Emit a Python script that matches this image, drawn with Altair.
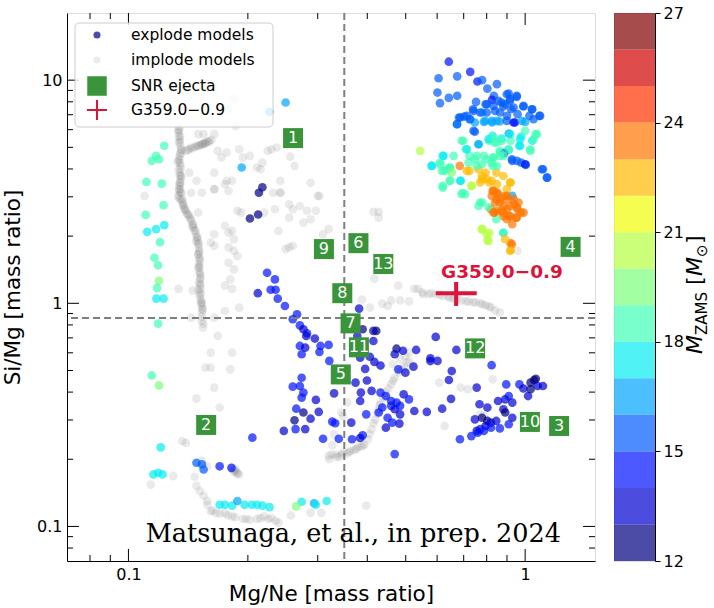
import altair as alt
import pandas as pd

W, H = 528, 548
FONT = "DejaVu Sans"
RED = "#dc143c"
GREEN = "#3a943a"

# ---------------- explode models (x = Mg/Ne, y = Si/Mg, m = M_ZAMS) ----------------
ex_x = [
    0.642, 0.727, 0.605, 0.674, 0.758, 0.779, 0.849, 0.601, 0.642, 0.674,
    0.610, 0.803, 0.834, 0.825, 0.909, 0.952, 0.872, 0.915, 0.795, 0.739,
    0.779, 0.881, 0.922, 0.989, 1.042, 0.702, 0.681, 0.724, 0.674, 0.747,
    0.787, 0.825, 0.863, 0.900, 0.942, 0.957, 1.025, 1.086, 1.000, 0.747,
    0.909, 0.828, 0.872, 0.977, 1.064, 1.042, 0.698, 0.763, 0.812, 0.837,
    0.919, 0.967, 0.709, 0.863, 0.909, 0.885, 1.031, 0.544, 0.620, 0.660,
    0.724, 0.787, 0.831, 0.863, 0.928, 0.977, 1.004, 1.109, 1.137, 0.581,
    0.610, 0.646, 0.627, 0.684, 0.724, 0.763, 0.828, 0.795, 0.846, 0.779,
    0.812, 0.881, 0.919, 0.646, 0.688, 0.732, 0.620, 0.695, 0.828, 0.855,
    0.890, 0.928, 0.863, 0.938, 0.977, 0.900, 0.837, 0.881, 0.948, 0.928,
    0.846, 0.779, 0.763, 0.881, 0.779, 0.812, 0.803, 0.919, 0.919, 0.846,
    0.900, 0.872, 0.909, 0.957, 0.820,
]
ex_y = [
    12.1, 10.9, 10.2, 10.4, 9.86, 10.0, 9.6, 8.80, 8.33, 8.51,
    7.89, 9.17, 8.51, 8.16, 8.71, 8.42, 7.94, 8.08, 7.80, 7.41,
    7.16, 7.62, 7.41, 7.62, 7.41, 6.87, 6.80, 6.69, 6.35, 6.46,
    6.50, 6.46, 6.53, 6.92, 6.46, 7.04, 6.92, 6.92, 6.50, 5.87,
    5.77, 5.63, 5.48, 5.59, 5.73, 5.35, 5.35, 5.16, 5.35, 5.25,
    5.35, 5.08, 4.90, 4.82, 4.87, 4.71, 4.82, 4.82, 4.58, 4.58,
    4.58, 4.58, 4.50, 4.58, 4.35, 4.27, 4.17, 3.99, 3.66, 4.13,
    4.27, 4.06, 3.92, 4.13, 3.92, 3.99, 4.13, 3.85, 3.85, 3.60,
    3.48, 3.72, 3.48, 3.54, 3.54, 3.36, 3.30, 3.13, 3.19, 3.08,
    3.03, 3.03, 2.83, 2.78, 2.55, 2.64, 2.55, 2.46, 2.42, 2.26,
    2.38, 2.83, 2.73, 2.07, 2.15, 2.07, 1.92, 1.86, 1.73, 2.93,
    2.93, 2.60, 2.46, 2.64, 2.64,
]
ex_m = [
    14.5, 14.3, 15.4, 15.6, 14.6, 15.2, 15.5, 15.3, 15.6, 15.4,
    15.5, 15.3, 15.6, 14.7, 15.4, 15.5, 15.3, 15.6, 15.4, 15.5,
    16.3, 15.4, 15.5, 15.3, 15.6, 15.5, 15.4, 16.4, 16.5, 16.6,
    16.4, 16.5, 16.6, 15.5, 14.6, 15.4, 15.5, 15.3, 16.4, 15.5,
    16.5, 17.5, 17.4, 17.6, 18.5, 17.5, 18.4, 17.5, 18.5, 18.6,
    18.4, 17.6, 18.5, 18.5, 17.5, 14.5, 18.4, 20.5, 17.5, 18.5,
    18.4, 18.6, 18.5, 18.5, 15.5, 15.4, 15.6, 15.5, 15.4, 17.5,
    18.5, 18.4, 18.6, 23.2, 22.5, 22.4, 18.5, 22.6, 22.5, 22.5,
    22.4, 22.6, 22.5, 18.5, 17.5, 20.5, 18.5, 18.4, 23.5, 23.4,
    23.6, 16.5, 23.5, 23.4, 23.5, 23.6, 23.5, 23.4, 23.5, 23.6,
    18.5, 18.5, 18.4, 17.5, 20.5, 20.4, 20.6, 23.5, 22.5, 23.5,
    23.4, 23.5, 23.6, 23.5, 23.4,
]

# more upper-right explode models
ur_x = [0.752, 0.800, 0.832, 0.857, 0.899, 0.917, 0.953, 0.890, 0.935, 0.991,
        1.040, 0.741, 0.770, 0.800, 0.840, 0.865, 0.686, 0.713, 0.727, 0.673,
        0.741, 0.793, 0.824, 0.849, 0.899, 0.935, 0.981, 1.050, 1.091,
        0.692, 0.763, 0.809, 0.832, 0.849, 0.873, 0.917, 0.971, 1.000, 1.050,
        1.070, 1.029, 0.971, 0.908, 0.865, 0.832, 0.800, 0.755, 0.713, 0.748,
        0.778, 0.824, 0.849, 0.882, 0.926, 0.953, 1.000, 1.102, 1.134, 0.623,
        0.582, 0.611, 0.617, 0.635, 0.647, 0.653, 0.720, 0.713, 0.755, 0.686,
        0.647, 0.620, 0.692, 0.706, 0.734, 0.770, 0.809, 0.882, 0.778, 0.800,
        0.809, 0.890, 0.926, 0.917,
        0.778, 0.800, 0.824, 0.770, 0.849, 0.917, 0.899, 0.832, 0.849, 0.824,
        0.865, 0.899, 0.935, 0.962, 0.840, 0.882, 0.917, 0.953, 0.991, 0.849,
        0.882, 0.917, 0.953, 0.899, 0.832]
ur_y = [7.99, 7.80, 7.67, 8.08, 8.65, 8.22, 8.51, 7.80, 7.54, 7.67,
        7.41, 7.28, 7.16, 7.16, 7.28, 7.16, 6.80, 6.92, 6.68, 6.35,
        5.93, 6.57, 6.57, 6.57, 6.57, 6.46, 6.57, 6.68, 6.92,
        5.35, 5.16, 5.44, 5.53, 5.26, 5.35, 5.73, 5.44, 5.93, 5.44,
        5.73, 4.90, 5.08, 4.90, 4.74, 4.50, 4.42, 4.58, 4.90, 4.42,
        4.20, 4.27, 4.13, 4.58, 4.42, 4.35, 4.20, 3.99, 3.66, 4.58,
        4.13, 4.20, 3.92, 3.99, 4.06, 3.85, 4.27, 3.92, 4.13, 3.54,
        3.54, 3.36, 3.08, 3.08, 3.36, 2.83, 2.69, 2.07, 2.15, 2.04,
        1.90, 1.94, 1.84, 1.72,
        3.72, 3.60, 3.54, 3.48, 3.42, 3.48, 3.25, 3.19, 3.14, 3.03,
        2.93, 3.03, 2.93, 2.83, 2.83, 2.73, 2.73, 2.69, 2.55, 2.59,
        2.55, 2.46, 2.42, 2.38, 2.55]
ur_m = [15.5, 15.4, 15.5, 15.3, 15.4, 15.5, 15.6, 15.4, 15.5, 15.4,
        15.5, 15.5, 15.4, 15.5, 15.6, 15.5, 15.4, 15.5, 15.6, 15.5,
        15.5, 16.5, 16.4, 16.5, 15.5, 14.5, 16.5, 15.5, 15.4,
        18.5, 16.5, 17.5, 18.5, 18.5, 18.4, 17.5, 17.5, 18.5, 18.5,
        18.4, 18.5, 17.5, 18.5, 18.5, 18.4, 18.5, 18.5, 17.5, 18.5,
        18.5, 18.4, 18.5, 18.5, 15.5, 15.4, 14.5, 15.5, 15.5, 17.5,
        17.5, 18.5, 18.4, 18.5, 18.5, 19.5, 18.5, 22.5, 18.5, 17.5,
        18.5, 18.5, 18.5, 18.4, 20.5, 18.5, 18.5, 18.5, 20.5, 20.5,
        20.4, 22.5, 23.5, 22.5,
        22.5, 22.5, 22.4, 22.5, 22.6, 22.5, 22.5, 23.5, 23.5, 23.4,
        23.5, 23.5, 23.6, 23.5, 23.5, 23.4, 23.5, 23.5, 23.6, 23.5,
        23.5, 23.4, 23.5, 23.5, 23.6]

# left column of explode models
col_x = [0.1231, 0.1174, 0.1145, 0.1194, 0.1110, 0.1214, 0.1226, 0.1105, 0.1231, 0.1174,
         0.1115, 0.1201, 0.1163, 0.1188, 0.1194, 0.1181, 0.1176, 0.1226, 0.1188, 0.1145,
         0.1194, 0.1206, 0.1156, 0.1188, 0.1219]
col_y = [5.08, 4.58, 4.35, 4.42, 3.50, 3.44, 2.75, 2.49, 2.24, 2.15,
         2.09, 1.88, 1.60, 1.48, 1.26, 1.17, 1.05, 1.05, 0.811, 0.475,
         0.429, 0.226, 0.171, 0.174, 0.171]
col_m = [18.5, 18.5, 18.4, 18.6, 18.5, 18.5, 18.5, 18.4, 17.5, 17.6,
         17.5, 18.5, 18.5, 18.4, 19.5, 18.5, 17.5, 17.6, 18.5, 18.5,
         19.5, 17.5, 17.5, 17.4, 17.6]

# bottom row and low-left cluster
low_x = [0.1698, 0.1751, 0.1825, 0.1882, 0.1962, 0.2045, 0.2110, 0.2176, 0.2268, 0.2733,
         0.2649, 0.2938, 0.2968, 0.316, 0.1484, 0.1531, 0.1547, 0.1698, 0.1818]
low_y = [0.125, 0.125, 0.124, 0.130, 0.125, 0.125, 0.125, 0.124, 0.122, 0.129,
         0.123, 0.127, 0.125, 0.130, 0.193, 0.190, 0.180, 0.186, 0.183]
low_m = [17.5, 17.5, 17.4, 16.5, 17.5, 17.6, 17.5, 17.4, 17.5, 17.5,
         19.5, 16.5, 17.5, 17.5, 15.5, 15.4, 15.6, 14.5, 14.5]

# middle band
mid_x = [0.2176, 0.2132, 0.2024, 0.2123, 0.2236, 0.2340, 0.2119, 0.2283, 0.2350, 0.2379,
         0.2480, 0.2660, 0.2595, 0.2705, 0.2761, 0.2819, 0.2950, 0.2807, 0.3049, 0.3196,
         0.2705, 0.2790, 0.3030, 0.2733, 0.3209, 0.3815, 0.3894, 0.4144, 0.4213, 0.3775,
         0.4144, 0.3838, 0.4059, 0.4169, 0.4740, 0.4920, 0.5311, 0.4691, 0.5951, 0.6709,
         0.5769, 0.6013, 0.5229, 0.6531, 0.8233, 0.4789, 1.064,
         0.249, 0.2268, 0.193]
mid_y = [3.31, 3.13, 2.40, 2.50, 1.37, 1.28, 1.11, 1.15, 1.15, 1.05,
         0.973, 0.892, 0.848, 0.796, 0.765, 0.734, 0.695, 0.714, 0.644, 0.651,
         0.644, 0.633, 0.605, 0.591, 0.552, 0.947, 0.765, 0.752, 0.752, 0.714,
         0.678, 0.571, 0.576, 0.546, 0.626, 0.613, 0.618, 0.591, 0.707, 0.618,
         0.567, 0.552, 0.520, 0.497, 0.528, 0.506, 0.459,
         7.94, 7.21, 4.06]
mid_m = [12.6, 12.4, 12.5, 12.6, 14.5, 14.4, 13.5, 14.5, 14.6, 14.5,
         14.4, 14.5, 14.6, 14.5, 13.5, 14.5, 13.6, 13.5, 14.5, 14.4,
         14.5, 13.5, 14.6, 14.5, 14.5, 13.5, 12.5, 13.5, 12.6, 13.4,
         13.5, 13.5, 13.6, 13.5, 12.5, 13.5, 13.4, 13.5, 13.5, 13.6,
         13.5, 13.4, 13.5, 13.5, 14.5, 14.5, 12.5,
         16.5, 16.6, 16.5]

# lower middle cluster
lm_x = [0.2733, 0.2595, 0.2705, 0.2761, 0.2733, 0.2649, 0.2761, 0.2622, 0.2878, 0.3018,
        0.2968, 0.2790, 0.2638, 0.2464, 0.2053, 0.3264, 0.3320, 0.3094, 0.3390, 0.3660,
        0.3894, 0.3838, 0.3645, 0.3299, 0.3736, 0.3854, 0.3951, 0.4319, 0.3838, 0.3976,
        0.4101, 0.4319, 0.4455, 0.4595, 0.4740, 0.4595, 0.4691, 0.4839, 0.4940, 0.5095,
        0.4364, 0.4274, 0.4501, 0.4839, 0.4455, 0.4819, 0.4624, 0.5256, 0.5651, 0.6177,
        0.6504, 0.6424, 0.5769, 0.4691, 0.3992, 0.4991]
lm_y = [0.464, 0.423, 0.426, 0.398, 0.378, 0.337, 0.324, 0.299, 0.304, 0.326,
        0.369, 0.273, 0.273, 0.268, 0.250, 0.295, 0.290, 0.247, 0.247, 0.246,
        0.256, 0.249, 0.292, 0.395, 0.441, 0.398, 0.508, 0.526, 0.365, 0.318,
        0.405, 0.398, 0.384, 0.365, 0.359, 0.347, 0.335, 0.347, 0.391, 0.371,
        0.341, 0.324, 0.307, 0.318, 0.277, 0.289, 0.292, 0.329, 0.326, 0.337,
        0.373, 0.453, 0.551, 0.211, 0.451, 0.489]
lm_m = [14.5, 14.5, 14.4, 14.5, 14.6, 14.5, 12.5, 12.6, 13.5, 13.5,
        13.4, 13.5, 14.5, 13.5, 14.5, 14.5, 14.4, 14.5, 14.5, 14.6,
        14.5, 13.5, 13.5, 13.5, 13.4, 13.5, 13.5, 13.6, 13.5, 14.5,
        13.5, 14.5, 14.4, 14.5, 14.6, 14.5, 13.5, 14.5, 13.5, 14.5,
        14.5, 14.4, 14.5, 13.5, 13.5, 13.4, 14.5, 13.5, 13.5, 13.6,
        13.5, 13.5, 13.4, 14.5, 13.5, 13.5]

# lower right cluster
lr_x = [0.7549, 0.7674, 0.8032, 0.8545, 0.8906, 0.8961, 0.9092, 0.9282, 0.9674, 0.9896,
        1.017, 1.032, 1.053, 1.075, 1.109, 1.032, 0.8814, 0.8906, 0.9282, 0.9092,
        0.8634, 0.7471, 0.7786, 0.8032, 0.8199, 0.7949, 0.7706, 0.7549, 0.7867, 0.8199,
        0.8457, 0.7318, 0.6849, 0.7596]
lr_y = [0.419, 0.353, 0.341, 0.365, 0.371, 0.433, 0.384, 0.359, 0.433, 0.415,
        0.384, 0.441, 0.453, 0.426, 0.426, 0.412, 0.335, 0.324, 0.307, 0.287,
        0.275, 0.302, 0.307, 0.297, 0.292, 0.282, 0.273, 0.268, 0.268, 0.277,
        0.297, 0.254, 0.246, 0.263]
lr_m = [13.5, 13.5, 13.4, 13.5, 13.5, 14.5, 14.5, 13.5, 14.5, 13.5,
        13.5, 12.5, 12.5, 13.5, 13.5, 12.5, 13.5, 12.5, 13.5, 14.5,
        14.5, 13.5, 12.5, 12.5, 13.5, 13.5, 14.5, 13.5, 14.5, 14.5,
        13.5, 14.5, 14.5, 14.5]

# ---------------- implode models ----------------
im_x = [
    0.1345, 0.1338, 0.1346, 0.1352, 0.1352, 0.1343, 0.1352, 0.1346, 0.1352, 0.1343, 0.1352, 0.1346,
    0.1330, 0.1360, 0.1335, 0.1380, 0.1410, 0.1450, 0.1480, 0.1500, 0.1510, 0.1520, 0.1500, 0.1530,
    0.1540, 0.1450, 0.1550, 0.1340, 0.1355, 0.1340,
    0.1395, 0.1439, 0.1484, 0.1531, 0.1579, 0.1619, 0.1563, 0.1509,
    0.1499, 0.1547, 0.1646, 0.1680, 0.1715, 0.1769, 0.1902, 0.1942, 0.2024, 0.2110, 0.2154, 0.2176,
    0.2245, 0.2292, 0.2364, 0.2558, 0.2622, 0.1646, 0.1646, 0.1769, 0.1825, 0.1531, 0.1439, 0.1424,
    0.1484, 0.2414, 0.2316, 0.2414, 0.2878, 0.2999, 0.1844, 0.1788, 0.1863, 0.1698,
    0.1352, 0.1360, 0.1372, 0.1395, 0.1430, 0.1453, 0.1469, 0.1490, 0.1499, 0.1509, 0.1509, 0.1506,
    0.1509, 0.1515, 0.1515, 0.1515, 0.1521, 0.1531, 0.1531, 0.1531, 0.1541,
    0.1751, 0.1646, 0.1788, 0.1882, 0.1922, 0.1788, 0.1825, 0.1844, 0.1788, 0.1844, 0.1882, 0.1788,
    0.1844, 0.1806, 0.1751, 0.1825,
    0.2199, 0.2340, 0.2414, 0.2542, 0.2595, 0.2705, 0.2819, 0.2878, 0.2968, 0.3030, 0.2542, 0.2761,
    0.3094, 0.3196, 0.2595, 0.2542, 0.2389, 0.2490,
    0.1098, 0.1338, 0.1612, 0.1612, 0.1563, 0.1806, 0.1680, 0.1825, 0.1902, 0.1751, 0.1646, 0.1439,
    0.1453, 0.1499, 0.1646, 0.1612, 0.1751, 0.1646,
    0.4144, 0.4274, 0.4274, 0.4169, 0.4789, 0.5256, 0.5366, 0.5535, 0.5710, 0.5951, 0.6202, 0.6464,
    0.6737, 0.7094, 0.7394, 0.7706, 0.7949, 0.8199, 0.8634, 0.4364, 0.4595, 0.4839, 0.5095, 0.4501,
    0.4059, 0.3878,
    0.4643, 0.4839, 0.4991, 0.5095,
    0.3196, 0.3334, 0.3475, 0.3622, 0.3775, 0.3935, 0.4017, 0.4101, 0.4187, 0.4274, 0.4319, 0.4455,
    0.4595, 0.4691, 0.4889, 0.5043, 0.3475, 0.3560, 0.3439, 0.3299, 0.3264, 0.3209,
    0.340, 0.355, 0.370, 0.385,
    0.1484, 0.1515, 0.1547, 0.1579, 0.1612, 0.1663, 0.1751, 0.1825, 0.1942, 0.2024, 0.2110, 0.2199,
    0.2292, 0.2389, 0.1366, 0.1395, 0.1297, 0.1469, 0.1138, 0.1698, 0.1646, 0.1484,
    0.2568, 0.2878, 0.3062, 0.3976, 0.6267, 0.6075, 0.6878, 0.7168, 0.7706, 0.8284, 0.7867,
    0.1844, 0.1882, 0.1902, 0.1825, 0.1531, 0.1579, 0.186,
    0.9574,
]
im_y = [
    6.14, 5.83, 5.44, 5.08, 4.74, 4.42, 4.13, 3.85, 3.60, 3.36, 3.13, 2.93,
    4.30, 3.70, 3.00, 2.70, 2.50, 2.20, 1.90, 1.65, 1.45, 1.30, 1.15, 1.00,
    0.94, 4.95, 5.20, 5.60, 4.90, 3.25,
    4.82, 4.99, 5.08, 5.16, 5.29, 5.40, 5.21, 5.11,
    5.73, 5.73, 5.73, 4.82, 4.50, 4.74, 4.90, 4.50, 4.58, 4.06, 3.99, 4.27,
    4.82, 4.90, 4.99, 4.54, 4.13, 3.85, 3.25, 3.54, 3.54, 3.13, 3.13, 3.85,
    3.54, 3.54, 3.13, 3.13, 3.47, 3.03, 8.22, 7.41, 6.24, 7.16,
    3.48, 3.13, 2.83, 2.60, 2.42, 2.26, 2.11, 1.97, 1.84, 1.72, 1.60, 1.50,
    1.39, 1.28, 1.20, 1.12, 1.04, 0.973, 0.908, 0.833, 0.778,
    3.42, 3.25, 3.19, 2.60, 2.55, 2.07, 2.11, 1.94, 1.78, 1.72, 1.63, 1.52,
    1.42, 1.28, 1.20, 1.16,
    2.55, 2.64, 3.13, 2.78, 2.64, 2.73, 2.60, 2.38, 2.60, 3.03, 2.42, 2.30,
    2.04, 2.15, 1.81, 1.78, 2.11, 1.75,
    3.03, 1.16, 0.601, 0.515, 0.515, 0.506, 0.714, 0.601, 0.956, 0.924, 0.862, 0.862,
    1.14, 2.55, 2.04, 1.87, 2.22, 1.81,
    2.57, 2.57, 2.42, 1.29, 1.20, 1.16, 1.16, 1.10, 1.10, 1.10, 1.08, 1.06,
    1.04, 1.02, 1.01, 1.00, 0.980, 0.957, 0.908, 0.997, 1.03, 1.03, 1.02, 0.973,
    0.957, 1.04,
    0.533, 0.561, 0.581, 0.601,
    0.207, 0.210, 0.214, 0.218, 0.226, 0.233, 0.246, 0.273, 0.302, 0.335, 0.359, 0.398,
    0.433, 0.464, 0.506, 0.542, 0.313, 0.359, 0.324, 0.259, 0.231, 0.200,
    0.205, 0.212, 0.220, 0.228,
    0.152, 0.144, 0.137, 0.130, 0.117, 0.115, 0.115, 0.111, 0.108, 0.107, 0.108, 0.111,
    0.109, 0.104, 0.241, 0.237, 0.168, 0.167, 0.154, 0.341, 0.419, 0.374,
    0.112, 0.115, 0.115, 0.124, 0.282, 0.441, 0.419, 0.412, 0.318, 0.456, 0.313,
    0.180, 0.174, 0.171, 0.183, 0.197, 0.186, 0.177,
    1.72,
]

# denser implode tracks (main column, hook, diagonal band, G359 band, bottom band)
im2_x = [0.1335, 0.1350, 0.1340, 0.1360, 0.1345, 0.1350, 0.1338, 0.1355, 0.1345, 0.1350,
         0.1340, 0.1365, 0.1375, 0.1385, 0.1420, 0.1440, 0.1460, 0.1480, 0.1495, 0.1505,
         0.1500, 0.1515, 0.1500, 0.1518, 0.1505, 0.1520, 0.1510, 0.1525, 0.1535, 0.1530,
         0.1545,
         0.1420, 0.1470, 0.1520, 0.1560, 0.1600,
         0.325, 0.335, 0.345, 0.360, 0.375, 0.390, 0.405, 0.415, 0.425, 0.430,
         0.440, 0.452, 0.465, 0.480, 0.495, 0.510,
         0.550, 0.580, 0.610, 0.640, 0.660, 0.690, 0.720, 0.750, 0.780, 0.810, 0.840,
         0.184, 0.188, 0.186,
         0.158, 0.163, 0.170, 0.178, 0.186, 0.198, 0.215, 0.225, 0.235,
         0.1342, 0.1348, 0.1352, 0.1340, 0.1355, 0.1346, 0.1350, 0.1343, 0.1362, 0.1370,
         0.1390, 0.1405, 0.1435, 0.1455, 0.1475, 0.1490, 0.1502, 0.1508, 0.1512, 0.1505,
         0.1513, 0.1518, 0.1522, 0.1528,
         0.1410, 0.1500, 0.1540, 0.1590]
im2_y = [6.00, 5.60, 5.25, 4.85, 4.55, 4.25, 3.98, 3.72, 3.48, 3.25,
         3.05, 2.95, 2.75, 2.65, 2.48, 2.34, 2.18, 2.04, 1.92, 1.78,
         1.66, 1.55, 1.44, 1.34, 1.24, 1.16, 1.08, 1.00, 0.94, 0.87,
         0.81,
         4.90, 5.02, 5.12, 5.22, 5.33,
         0.210, 0.205, 0.210, 0.215, 0.222, 0.230, 0.260, 0.290, 0.320, 0.350,
         0.380, 0.415, 0.450, 0.490, 0.520, 0.550,
         1.12, 1.11, 1.09, 1.07, 1.05, 1.03, 1.02, 1.01, 0.99, 0.97, 0.93,
         0.176, 0.172, 0.181,
         0.125, 0.118, 0.114, 0.112, 0.110, 0.108, 0.109, 0.108, 0.106,
         5.95, 5.30, 4.65, 4.35, 4.00, 3.75, 3.40, 3.20, 2.90, 2.78,
         2.62, 2.52, 2.38, 2.24, 2.12, 1.98, 1.86, 1.70, 1.58, 1.47,
         1.36, 1.22, 1.10, 1.02,
         4.86, 5.06, 5.18, 5.30]

# ---------------- SNR ejecta ----------------
snr_label = ["1", "2", "3", "4", "5", "6", "7", "8", "9", "10", "11", "12", "13"]
snr_x = [0.260, 0.157, 1.218, 1.302, 0.343, 0.380, 0.363, 0.346, 0.311, 1.028, 0.381, 0.748, 0.439]
snr_y = [5.50, 0.285, 0.282, 1.79, 0.480, 1.86, 0.813, 1.11, 1.75, 0.294, 0.635, 0.628, 1.50]

# ---------------- G359.0-0.9 ----------------
g_x, g_xlo, g_xhi = [0.670], [0.595], [0.755]
g_y, g_ylo, g_yhi = [1.11], [0.973], [1.246]
g_name = ["G359.0\u22120.9"]
g_label_x, g_label_y = [0.874], [1.38]

# reference lines
vline_x = [0.35]
hline_y = [0.86]

# tick values
x_major = [0.1, 1]
x_minor = [0.08, 0.09, 0.2, 0.3, 0.4, 0.5, 0.6, 0.7, 0.8, 0.9]
y_major = [0.1, 1, 10]
y_minor = [0.08, 0.09, 0.2, 0.3, 0.4, 0.5, 0.6, 0.7, 0.8, 0.9, 2, 3, 4, 5, 6, 7, 8, 9]

# colour bar
mass_edges = list(range(12, 28))
cbar_ticks = [12, 15, 18, 21, 24, 27]
jet15 = ["#000080", "#0000d2", "#0012ff", "#005bff", "#00a4ff", "#06edf1", "#40ffb6",
         "#7bff7b", "#b6ff40", "#f1fc06", "#ffb900", "#ff7500", "#ff3200", "#d20000", "#800000"]

legend_labels = ["explode models", "implode models", "SNR ejecta", "G359.0\u22120.9"]

# ---------------- build ----------------
ex_df = pd.DataFrame({
    "x": ex_x + ur_x + col_x + low_x + mid_x + lm_x + lr_x,
    "y": ex_y + ur_y + col_y + low_y + mid_y + lm_y + lr_y,
    "m": ex_m + ur_m + col_m + low_m + mid_m + lm_m + lr_m,
})
im_df = pd.DataFrame({"x": im_x + im2_x, "y": im_y + im2_y})
snr_df = pd.DataFrame({"label": snr_label, "x": snr_x, "y": snr_y})
g_df = pd.DataFrame({"x": g_x, "xlo": g_xlo, "xhi": g_xhi, "y": g_y, "ylo": g_ylo, "yhi": g_yhi})
g_lab = pd.DataFrame({"x": g_label_x, "y": g_label_y, "t": g_name})
dummy = pd.DataFrame({"k": [0]})

xs = alt.Scale(type="log", domain=[0.07, 1.5], nice=False)
ys = alt.Scale(type="log", domain=[0.07, 20], nice=False)
cs = alt.Scale(type="threshold", domain=mass_edges[1:-1], range=jet15)

axis_common = dict(ticks=False, grid=False, format="~g", labelFontSize=16, titleFontSize=21.5,
                   titleFontWeight="normal", domainColor="black", labelColor="black",
                   titleColor="black", labelFont=FONT, titleFont=FONT, domainWidth=1)
X_AX = alt.Axis(title="Mg/Ne [mass ratio]", values=x_major, labelPadding=5, titlePadding=1,
                **axis_common)
Y_AX = alt.Axis(title="Si/Mg [mass ratio]", values=y_major, labelPadding=5, titlePadding=12,
                **axis_common)


def X(field):
    return alt.X(field, scale=xs, axis=X_AX)


def Y(field):
    return alt.Y(field, scale=ys, axis=Y_AX)


implode = alt.Chart(im_df).mark_circle(size=75, color="#808080", opacity=0.17).encode(
    x=X("x:Q"), y=Y("y:Q"))

explode = alt.Chart(ex_df).mark_circle(size=75, opacity=0.7).encode(
    x=X("x:Q"), y=Y("y:Q"), color=alt.Color("m:Q", scale=cs, legend=None))

vline = alt.Chart(pd.DataFrame({"v": vline_x})).mark_rule(
    color="#7f7f7f", strokeDash=[7, 4], strokeWidth=2).encode(x=X("v:Q"))
hline = alt.Chart(pd.DataFrame({"v": hline_y})).mark_rule(
    color="#7f7f7f", strokeDash=[7, 4], strokeWidth=2).encode(y=Y("v:Q"))


def xticks(vals, length, top):
    y0, y1 = (0, length) if top else (H, H - length)
    return alt.Chart(pd.DataFrame({"v": vals})).mark_rule(color="black", strokeWidth=1).encode(
        x=X("v:Q"), y=alt.value(y0), y2=alt.value(y1))


def yticks(vals, length, right):
    x0, x1 = (W, W - length) if right else (0, length)
    return alt.Chart(pd.DataFrame({"v": vals})).mark_rule(color="black", strokeWidth=1).encode(
        y=Y("v:Q"), x=alt.value(x0), x2=alt.value(x1))


tick_layers = [xticks(x_major, 12, False), xticks(x_minor, 6, False),
               xticks(x_major, 12, True), xticks(x_minor, 6, True),
               yticks(y_major, 12, False), yticks(y_minor, 6, False),
               yticks(y_major, 12, True), yticks(y_minor, 6, True)]

snr_sq = alt.Chart(snr_df).mark_square(size=400, color=GREEN, opacity=1).encode(
    x=X("x:Q"), y=Y("y:Q"))
snr_txt = alt.Chart(snr_df).mark_text(color="white", fontSize=16, font=FONT,
                                      align="center", baseline="middle").encode(
    x=X("x:Q"), y=Y("y:Q"), text="label:N")

g_h = alt.Chart(g_df).mark_rule(color=RED, strokeWidth=4).encode(
    x=X("xlo:Q"), x2="xhi:Q", y=Y("y:Q"))
g_v = alt.Chart(g_df).mark_rule(color=RED, strokeWidth=4).encode(
    x=X("x:Q"), y=Y("ylo:Q"), y2="yhi:Q")
g_t = alt.Chart(g_lab).mark_text(color=RED, fontSize=18.5, fontWeight="bold", font=FONT,
                                 align="center", baseline="middle").encode(
    x=X("x:Q"), y=Y("y:Q"), text="t:N")

credit = alt.Chart(dummy).mark_text(text="Matsunaga, et al., in prep. 2024", font="DejaVu Serif",
                                    fontSize=25.5, align="right", baseline="alphabetic",
                                    color="black").encode(x=alt.value(494), y=alt.value(529))

leg_bg = alt.Chart(dummy).mark_rect(fill="white", fillOpacity=0.8, stroke="#cccccc",
                                    strokeWidth=1, cornerRadius=4).encode(
    x=alt.value(8), x2=alt.value(206), y=alt.value(10), y2=alt.value(114))
leg_rows = [22, 47, 73, 97]
leg_sym = [
    alt.Chart(dummy).mark_circle(size=50, color="#4c4ca6", opacity=1).encode(
        x=alt.value(30), y=alt.value(leg_rows[0])),
    alt.Chart(dummy).mark_circle(size=50, color="#ebebeb", opacity=1).encode(
        x=alt.value(30), y=alt.value(leg_rows[1])),
    alt.Chart(dummy).mark_square(size=380, color=GREEN, opacity=1).encode(
        x=alt.value(30), y=alt.value(leg_rows[2])),
    alt.Chart(dummy).mark_point(shape="M-1,0L1,0M0,-1L0,1", size=400, filled=False, color=RED,
                                strokeWidth=2, opacity=1).encode(
        x=alt.value(30), y=alt.value(leg_rows[3])),
]
leg_txt = [
    alt.Chart(dummy).mark_text(text=lab, font=FONT, fontSize=15.5, align="left", baseline="middle",
                               color="black").encode(x=alt.value(64), y=alt.value(yy))
    for lab, yy in zip(legend_labels, leg_rows)
]

main = alt.layer(implode, explode, vline, hline, *tick_layers, snr_sq, snr_txt, g_h, g_v, g_t,
                 credit, leg_bg, *leg_sym, *leg_txt).properties(width=W, height=H)

# colour bar
cb_df = pd.DataFrame({"lo": mass_edges[:-1], "hi": mass_edges[1:]})
cbar = alt.Chart(cb_df).mark_rect(opacity=0.7).encode(
    y=alt.Y("lo:Q", scale=alt.Scale(domain=[12, 27], nice=False, zero=False),
            axis=alt.Axis(orient="right", values=cbar_ticks, title=None, tickSize=5,
                          tickColor="black", domainColor="black", labelFontSize=16,
                          labelPadding=3, labelColor="black", labelFont=FONT, grid=False)),
    y2="hi:Q",
    x=alt.value(0), x2=alt.value(41),
    color=alt.Color("lo:Q", scale=cs, legend=None),
)

title_parts = [("M", 22, "italic", 88, 341), ("ZAMS", 15, "normal", 93, 322),
               ("[", 22, "normal", 88, 272), ("M", 22, "italic", 88, 263),
               ("\u2299", 15, "normal", 93, 244), ("]", 22, "normal", 88, 231)]
cb_title = [
    alt.Chart(dummy).mark_text(text=t, font=FONT, fontSize=fs, fontStyle=st, angle=270,
                               align="left", baseline="alphabetic", color="black").encode(
        x=alt.value(xx), y=alt.value(yy))
    for t, fs, st, xx, yy in title_parts
]
cbar_chart = alt.layer(cbar, *cb_title).properties(width=41, height=H)

chart = alt.hconcat(main, cbar_chart, spacing=16).properties(
    padding={"left": 2, "top": 4, "right": 2, "bottom": 0}
).configure_view(stroke="black", strokeWidth=1).configure(background="white")

chart.save("out.html", embed_options={"renderer": "svg", "actions": False})
